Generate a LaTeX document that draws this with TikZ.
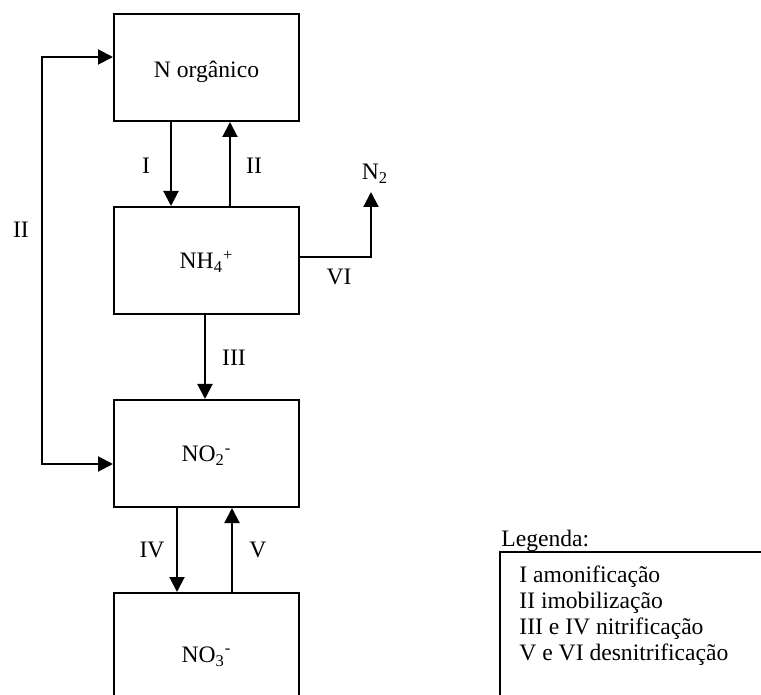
\documentclass[tikz,border=0pt]{standalone}
\usepackage{fontspec}
\setmainfont{Liberation Serif}
\usetikzlibrary{arrows.meta}
\begin{document}
\begin{tikzpicture}[x=0.5pt,y=-0.5pt,
  font=\fontsize{11.8}{14}\selectfont,
  box/.style={draw,line width=1pt,minimum width=92.5pt,minimum height=53.5pt,inner sep=0pt,text height=2.1ex,text depth=0.25ex},
  arr/.style={line width=1pt,-{Triangle[length=7.5pt,width=7.5pt]}},
  arrboth/.style={line width=1pt,{Triangle[length=7.5pt,width=7.5pt]}-{Triangle[length=7.5pt,width=7.5pt]}},
  lbl/.style={inner sep=0pt},
  legline/.style={inner sep=0pt,anchor=base west}]
\useasboundingbox (0,0) rectangle (761,695);
\clip (0,0) rectangle (761,695);
% boxes
\node[box,text height=2.5ex] (org) at (206.5,67.5) {N orgânico};
\node[box] (nh) at (206.5,260.5) {NH\textsubscript{4}\textsuperscript{+}};
\node[box] (no2) at (206.5,453.5) {NO\textsubscript{2}\textsuperscript{-}};
\node[box,minimum height=61pt] (no3) at (206.5,654) {NO\textsubscript{3}\textsuperscript{-}};
% vertical arrows
\draw[arr] ([xshift=-17.75pt]org.south) -- ([xshift=-17.75pt]nh.north);
\draw[arr] ([xshift=11.75pt]nh.north) -- ([xshift=11.75pt]org.south);
\draw[arr] ([xshift=-0.75pt]nh.south) -- ([xshift=-0.75pt]no2.north);
\draw[arr] ([xshift=-14.75pt]no2.south) -- ([xshift=-14.75pt]no3.north);
\draw[arr] ([xshift=12.75pt]no3.north) -- ([xshift=12.75pt]no2.south);
% left loop
\coordinate (loop) at (42,260);
\draw[arrboth] ([yshift=5.25pt]org.west) -| (loop) |- ([yshift=-5.25pt]no2.west);
% N2 branch
\coordinate (n2tip) at (371,192);
\draw[arr] ([yshift=1.75pt]nh.east) -| (n2tip);
\node[lbl] (n2) at (375,174) {N\textsubscript{2}};
% labels
\node[lbl] (lI) at (146,166) {I};
\node[lbl] (lII) at (254,166) {II};
\node[lbl] (lIIleft) at (21,230) {II};
\node[lbl] (lIII) at (234,358) {III};
\node[lbl] (lIV) at (152,550) {IV};
\node[lbl] (lV) at (258,550) {V};
\node[lbl] (lVI) at (339,277) {VI};
% legend
\node[legline] (legtitle) at (501,546) {Legenda:};
\node[draw,line width=1pt,anchor=north west,minimum width=150.5pt,minimum height=110pt,inner sep=0pt] (legbox) at (499,551) {};
\node[legline] (leg1) at (519,582) {I amonificação};
\node[legline] (leg2) at (519,608) {II imobilização};
\node[legline] (leg3) at (519,634) {III e IV nitrificação};
\node[legline] (leg4) at (519,660) {V e VI desnitrificação};
\end{tikzpicture}
\end{document}
